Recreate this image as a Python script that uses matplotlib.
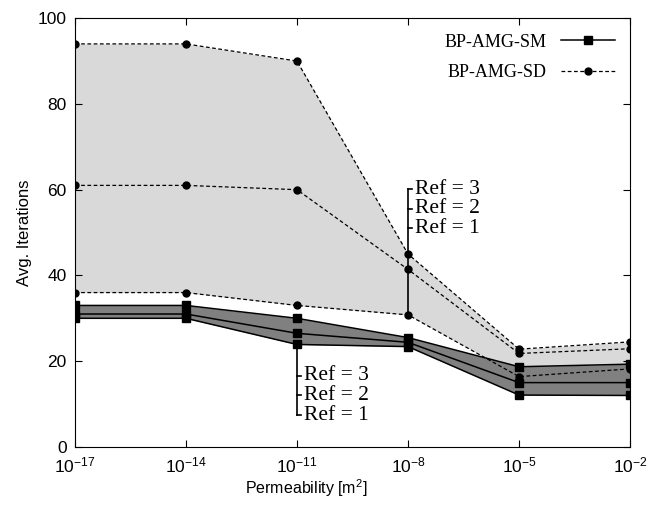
import numpy as np
import matplotlib
matplotlib.use("Agg")
import matplotlib.pyplot as plt

# permeability values and tick labels
perm = [1e-17, 1e-14, 1e-11, 1e-8, 1e-5, 1e-2]
tick_labels = [r"$10^{-17}$", r"$10^{-14}$", r"$10^{-11}$", r"$10^{-8}$", r"$10^{-5}$", r"$10^{-2}$"]

# BP-AMG-SD (dashed, circles), refinements 1..3
sd_ref1 = [36, 36, 33, 30.8, 16.4, 18.2]
sd_ref2 = [61, 61, 60, 41.4, 21.8, 22.9]
sd_ref3 = [94, 94, 90, 45.0, 22.8, 24.5]

# BP-AMG-SM (solid, squares), refinements 1..3
sm_ref1 = [30, 30, 23.9, 23.4, 12.1, 12.0]
sm_ref2 = [31, 31, 26.5, 24.4, 15.0, 15.0]
sm_ref3 = [33, 33, 30.0, 25.5, 18.7, 19.3]

plt.rcParams['font.family'] = ['Liberation Sans', 'DejaVu Sans']
plt.rcParams['mathtext.fontset'] = 'custom'
plt.rcParams['mathtext.rm'] = 'Liberation Sans'
plt.rcParams['mathtext.it'] = 'Liberation Sans'

fig = plt.figure(figsize=(6.57, 5.05), dpi=100)
ax = fig.add_axes([0.114, 0.115, 0.845, 0.849])

sd_all = np.array([sd_ref1, sd_ref2, sd_ref3])
sm_all = np.array([sm_ref1, sm_ref2, sm_ref3])

ax.fill_between(perm, sd_all.min(axis=0), sd_all.max(axis=0), color='#d9d9d9', lw=0, zorder=1)
ax.fill_between(perm, sm_all.min(axis=0), sm_all.max(axis=0), color='#808080', lw=0, zorder=2)

for i, ys in enumerate([sd_ref1, sd_ref2, sd_ref3]):
    ax.plot(perm, ys, ls=(0, (3, 2)), color='black', lw=0.9, marker='o', ms=5,
            label='BP-AMG-SD' if i == 0 else None, zorder=3)
for i, ys in enumerate([sm_ref1, sm_ref2, sm_ref3]):
    ax.plot(perm, ys, ls='-', color='black', lw=1.1, marker='s', ms=6,
            label='BP-AMG-SM' if i == 0 else None, zorder=4)

# annotation brackets
serif = ['Liberation Serif', 'DejaVu Serif']
tick_w = 0.12  # in decades

def bracket(x, y_from, y_top_bottom, ys, texts):
    ax.plot([x, x], [y_from, y_top_bottom], color='black', lw=1.2, zorder=5)
    for y, t in zip(ys, texts):
        ax.plot([x, x * 10 ** tick_w], [y, y], color='black', lw=1.2, zorder=5)
        ax.text(x * 10 ** (tick_w + 0.06), y, t, family=serif, fontsize=15.5,
                va='center', ha='left', zorder=6)

bracket(1e-8, sd_ref1[3], 60.1, [60.1, 55.5, 51.0], ["Ref = 3", "Ref = 2", "Ref = 1"])
bracket(1e-11, sm_ref1[2], 7.4, [16.6, 12.0, 7.4], ["Ref = 3", "Ref = 2", "Ref = 1"])

ax.set_xscale('log')
ax.set_xlim(1e-17, 1e-2)
ax.set_ylim(0, 100)
ax.set_xticks(perm)
ax.set_xticklabels(tick_labels)
ax.minorticks_off()
ax.set_yticks([0, 20, 40, 60, 80, 100])
ax.tick_params(direction='in', top=True, right=True, labelsize=12.5, length=5, pad=6)
ax.set_xlabel(r"Permeability [m$^2$]", fontsize=11.5)
ax.xaxis.set_label_coords((306 - 75) / 555, -0.07)
ax.set_ylabel("Avg. Iterations", fontsize=12)

handles, labels = ax.get_legend_handles_labels()
order = [labels.index('BP-AMG-SM'), labels.index('BP-AMG-SD')]
ax.legend([handles[i] for i in order], [labels[i] for i in order], loc='upper right',
          frameon=False, markerfirst=False, prop={'family': 'Liberation Serif', 'size': 13},
          handlelength=3, borderaxespad=0.45, labelspacing=0.75)

fig.savefig('out.png', dpi=100)
